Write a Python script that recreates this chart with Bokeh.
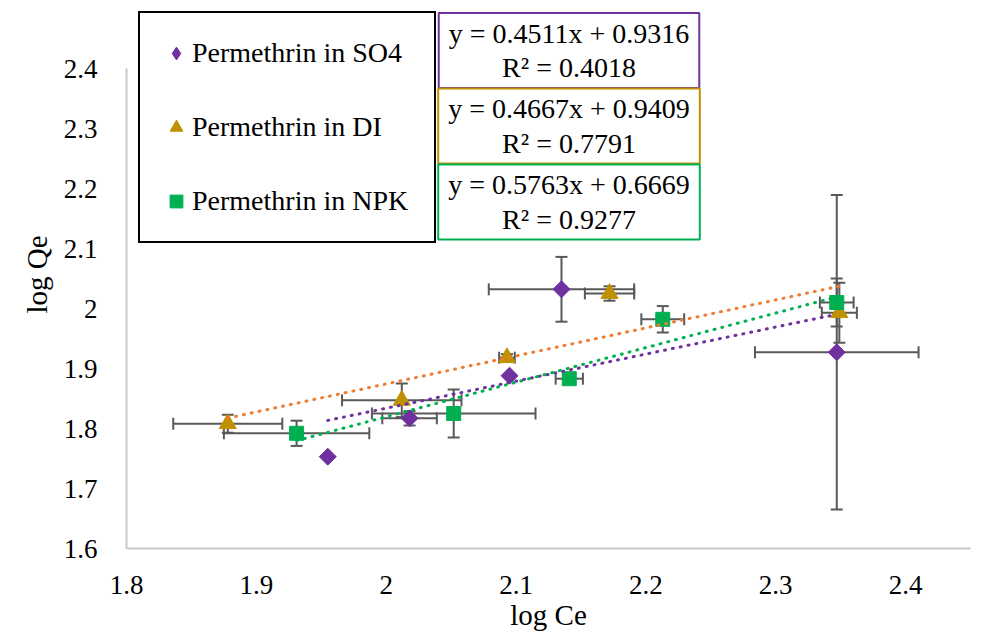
import math
from bokeh.plotting import figure
from bokeh.models import (ColumnDataSource, Whisker, TeeHead, Label, Legend,
                          LegendItem, FixedTicker, Range1d, CustomJSTickFormatter)
from bokeh.embed import file_html
from bokeh.resources import INLINE

# ---------------- data ----------------
series_names = ["Permethrin in SO4", "Permethrin in DI", "Permethrin in NPK"]

so4_x = [1.955, 2.018, 2.095, 2.135, 2.347]
so4_y = [1.753, 1.817, 1.888, 2.032, 1.927]
so4_xerr = [0.0, 0.021, 0.0, 0.056, 0.063]
so4_yerr = [0.0, 0.012, 0.0, 0.054, 0.262]

di_x = [1.878, 2.012, 2.093, 2.172, 2.349]
di_y = [1.808, 1.847, 1.918, 2.025, 1.993]
di_xerr = [0.042, 0.046, 0.006, 0.019, 0.0135]
di_yerr = [0.015, 0.028, 0.006, 0.012, 0.050]

npk_x = [1.931, 2.052, 2.141, 2.213, 2.347]
npk_y = [1.792, 1.825, 1.883, 1.982, 2.010]
npk_xerr = [0.056, 0.063, 0.0105, 0.0165, 0.013]
npk_yerr = [0.021, 0.040, 0.0, 0.022, 0.040]

slopes = [0.4511, 0.4667, 0.5763]
intercepts = [0.9316, 0.9409, 0.6669]
r_squared = ["0.4018", "0.7791", "0.9277"]

x_ticks = [1.8, 1.9, 2.0, 2.1, 2.2, 2.3, 2.4]
x_tick_labels = ["1.8", "1.9", "2", "2.1", "2.2", "2.3", "2.4"]
y_ticks = [1.6, 1.7, 1.8, 1.9, 2.0, 2.1, 2.2, 2.3, 2.4]
y_tick_labels = ["1.6", "1.7", "1.8", "1.9", "2", "2.1", "2.2", "2.3", "2.4"]

# ---------------- styles ----------------
FONT = "Liberation Serif"
marker_colors = ["#7030A0", "#BF9000", "#00B050"]
trend_colors = ["#7030A0", "#ED7D31", "#00B050"]
box_colors = ["#7030A0", "#BF9000", "#00B050"]
ERR = "#595959"

Y_MIN, Y_MAX = 1.6, 2.4
X_MIN, X_MAX = 1.8, 2.45
FRAME_BOTTOM = 548          # canvas pixel of the x axis
PX_PER_Y = 600.0            # pixels per y unit
y_top = Y_MIN + FRAME_BOTTOM / PX_PER_Y

p = figure(width=1003, height=637, x_range=Range1d(X_MIN, X_MAX), y_range=Range1d(Y_MIN, y_top),
           output_backend="svg", toolbar_location=None,
           min_border_left=126, min_border_right=33, min_border_top=0,
           min_border_bottom=637 - FRAME_BOTTOM)
p.xgrid.visible = False
p.ygrid.visible = False
p.outline_line_color = None
p.background_fill_color = "white"
p.border_fill_color = "white"
# an off-screen x range used only by the legend swatch renderer
p.extra_x_ranges = {"legend_only": Range1d(100, 101)}

for ax, ticks, labels, title, bounds in (
        (p.xaxis[0], x_ticks, x_tick_labels, "log Ce", (X_MIN, X_MAX)),
        (p.yaxis[0], y_ticks, y_tick_labels, "log Qe", (Y_MIN, Y_MAX))):
    ax.ticker = FixedTicker(ticks=ticks)
    ax.formatter = CustomJSTickFormatter(
        args=dict(labels={f"{t:.1f}": l for t, l in zip(ticks, labels)}),
        code="return labels[tick.toFixed(1)];")
    ax.bounds = bounds
    ax.major_tick_line_color = None
    ax.minor_tick_line_color = None
    ax.major_tick_out = 0
    ax.major_tick_in = 0
    ax.axis_line_color = "#C8C8C8"
    ax.axis_line_width = 2
    ax.major_label_text_font = FONT
    ax.major_label_text_font_size = "27px"
    ax.major_label_text_color = "black"
    ax.axis_label = title
    ax.axis_label_text_font = FONT
    ax.axis_label_text_font_style = "normal"
    ax.axis_label_text_font_size = "29px"
    ax.axis_label_text_color = "black"

p.xaxis[0].major_label_standoff = 27
p.xaxis[0].axis_label_standoff = 2
p.yaxis[0].major_label_standoff = 29
p.yaxis[0].axis_label_standoff = 8

series = [
    (so4_x, so4_y, so4_xerr, so4_yerr, "square", 12, math.pi / 4),
    (di_x, di_y, di_xerr, di_yerr, "triangle", 17, 0.0),
    (npk_x, npk_y, npk_xerr, npk_yerr, "square", 14, 0.0),
]

def head():
    return TeeHead(size=12, line_color=ERR, line_width=2)

legend_renderers = []
for i, (xs, ys, exs, eys, marker, size, ang) in enumerate(series):
    vy = [k for k in range(len(xs)) if eys[k] > 0]
    vsrc = ColumnDataSource(dict(x=[xs[k] for k in vy],
                                 lo=[ys[k] - eys[k] for k in vy],
                                 hi=[ys[k] + eys[k] for k in vy]))
    p.add_layout(Whisker(source=vsrc, base="x", lower="lo", upper="hi", dimension="height",
                         line_color=ERR, line_width=2, upper_head=head(), lower_head=head()))
    hx = [k for k in range(len(xs)) if exs[k] > 0]
    hsrc = ColumnDataSource(dict(y=[ys[k] for k in hx],
                                 lo=[xs[k] - exs[k] for k in hx],
                                 hi=[xs[k] + exs[k] for k in hx]))
    p.add_layout(Whisker(source=hsrc, base="y", lower="lo", upper="hi", dimension="width",
                         line_color=ERR, line_width=2, upper_head=head(), lower_head=head()))
    src = ColumnDataSource(dict(x=xs, y=ys))
    r = p.scatter("x", "y", source=src, marker=marker, size=size, angle=ang,
                  fill_color=marker_colors[i], line_color=marker_colors[i], line_width=1)
    if ang != 0.0:
        # legend swatch: same data mapped to an off-screen range, upright diamond symbol
        r = p.scatter("x", "y", source=src, x_range_name="legend_only",
                      marker="diamond", size=size,
                      fill_color=marker_colors[i], line_color=marker_colors[i], line_width=1)
    legend_renderers.append(r)

# trend lines (from the fitted equations, over each series' x-span)
for i, (xs, ys, *_rest) in enumerate(series):
    x0, x1 = min(xs), max(xs)
    p.line([x0, x1], [slopes[i] * x0 + intercepts[i], slopes[i] * x1 + intercepts[i]],
           line_color=trend_colors[i], line_width=3, line_dash="1 7", line_cap="round")

# legend
legend = Legend(items=[LegendItem(label=series_names[i], renderers=[legend_renderers[i]])
                       for i in range(3)],
                location=(12, FRAME_BOTTOM - 243), margin=0, padding=20, spacing=34,
                glyph_width=32, glyph_height=40, label_width=222, label_height=40,
                label_standoff=0,
                label_text_font=FONT, label_text_font_size="28px", label_text_color="black",
                border_line_color="black", border_line_width=2, border_line_alpha=1,
                background_fill_color="white", background_fill_alpha=1)
p.add_layout(legend)

# equation boxes
box_cy = [50, 125.5, 201.5]
for i in range(3):
    txt = f"y = {slopes[i]:.4f}x + {intercepts[i]:.4f}\nR\u00b2 = {r_squared[i]}"
    p.add_layout(Label(x=442.5, y=FRAME_BOTTOM - box_cy[i], x_units="screen", y_units="screen",
                       text=txt, text_align="center", text_baseline="middle", text_font=FONT,
                       text_font_size="28px", text_line_height=1.1, text_color="black",
                       border_line_color=box_colors[i], border_line_width=2,
                       background_fill_color="white", background_fill_alpha=1,
                       padding=(10, 5)))

open("out.html", "w").write(file_html(p, INLINE))
